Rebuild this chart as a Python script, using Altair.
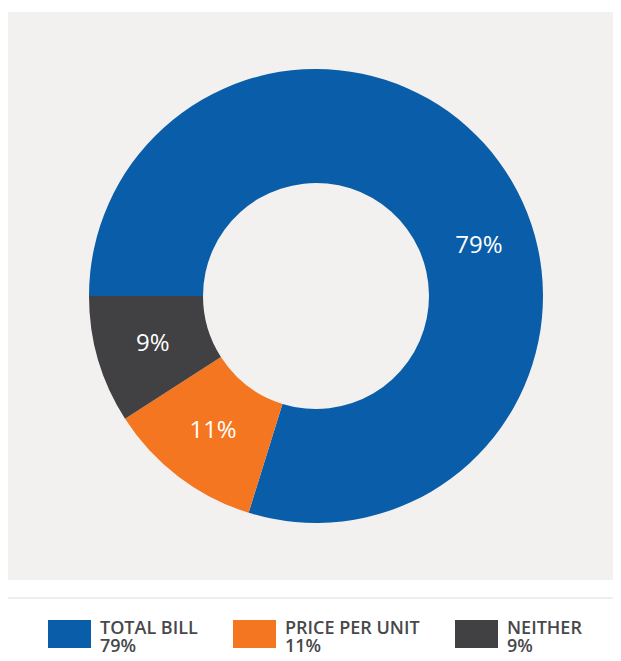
import math
import altair as alt
import pandas as pd

# ---- data ----
categories = ["TOTAL BILL", "PRICE PER UNIT", "NEITHER"]
values = [79, 11, 9]
colors = ["#0a5da8", "#f47620", "#414042"]

df = pd.DataFrame({"category": categories, "value": values, "order": list(range(len(categories)))})
df["label"] = df["value"].astype(str) + "%"
df["key"] = df["category"] + "\n" + df["label"]
keys = list(df["key"])
total = sum(values)

W, H = 605, 645
CX, CY = 308, 288
start = 1.5 * math.pi
theta_scale = alt.Scale(domain=[0, total], range=[start, start + 2 * math.pi])

one = pd.DataFrame({"a": [0]})
bg = alt.Chart(one).mark_rect(color="#f2f1ef").encode(
    x=alt.value(0), x2=alt.value(W), y=alt.value(4), y2=alt.value(572)
)
legend_box = alt.Chart(one).mark_rect(fill="white", stroke="#ebe9e7", strokeWidth=1.5).encode(
    x=alt.value(-1), x2=alt.value(W + 3), y=alt.value(590), y2=alt.value(H + 5)
)

arc = alt.Chart(df).mark_arc(outerRadius=227, innerRadius=113).encode(
    theta=alt.Theta("value:Q", stack=True, scale=theta_scale),
    order=alt.Order("order:Q"),
    color=alt.Color(
        "key:N",
        scale=alt.Scale(domain=keys, range=colors),
        legend=alt.Legend(
            orient="none", legendX=47.5, legendY=612, direction="horizontal", title=None,
            symbolType="M-1.536,-1H1.536V1H-1.536Z", symbolSize=784, symbolStrokeWidth=0,
            symbolOpacity=1, labelFont="Open Sans", labelFontSize=18, labelFontWeight=600,
            labelColor="#48484b", labelBaseline="alphabetic",
            labelExpr="split(datum.label, '\\n')", labelOffset=16.5, columnPadding=34,
            padding=0, labelLimit=300,
        ),
    ),
    x=alt.value(CX), y=alt.value(CY),
)

text_base = alt.Chart(df).transform_stack(
    stack="value", as_=["v0", "v1"], groupby=[], sort=[alt.SortField("order")]
).transform_calculate(mid="(datum.v0 + datum.v1) / 2")

txt_kw = dict(radius=170, font="Open Sans", fontSize=24, fontWeight=500, color="white",
              align="center", baseline="middle")
enc = dict(theta=alt.Theta("mid:Q", stack=None, scale=theta_scale), text="label:N", x=alt.value(CX), y=alt.value(CY))

labels = text_base.transform_filter("datum.order != 0").mark_text(**txt_kw).encode(**enc)
label_main = text_base.transform_filter("datum.order == 0").mark_text(dx=26, dy=51, **txt_kw).encode(**enc)

chart = alt.layer(bg, legend_box, arc, labels, label_main).properties(
    width=W, height=H, autosize="none", padding=0
).configure(
    background="white", style={"guide-label": {"lineHeight": 18}}
).configure_view(stroke=None)

chart.save("out.html", embed_options={"renderer": "svg", "actions": False})
